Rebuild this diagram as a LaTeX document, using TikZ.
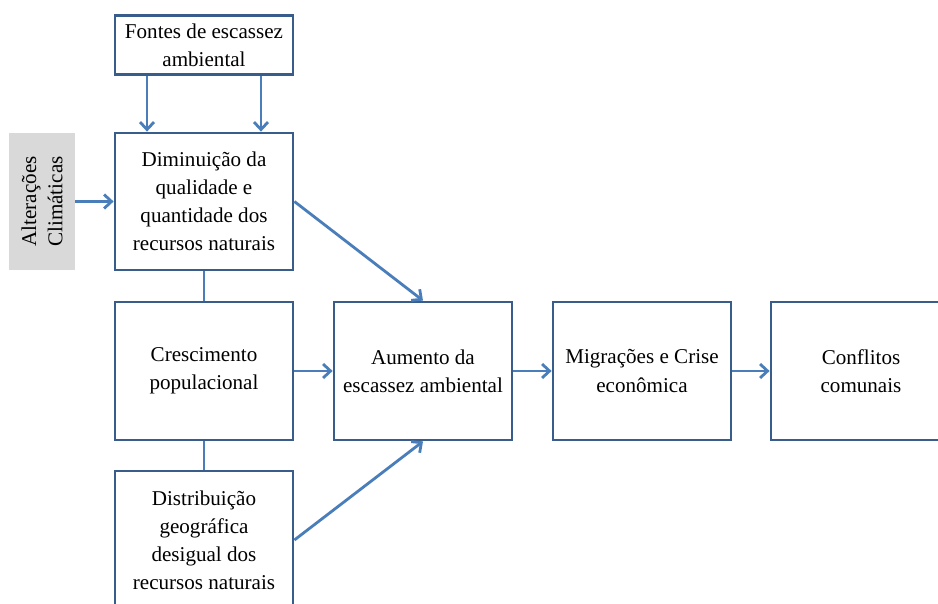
\documentclass[tikz,border=0pt]{standalone}
\usepackage{fontspec}
\setmainfont{Liberation Serif}
\usetikzlibrary{arrows.meta}
\definecolor{boxline}{HTML}{385D8A}
\definecolor{arrline}{HTML}{4A7EBB}
\definecolor{grayfill}{HTML}{D9D9D9}
\begin{document}
\begin{tikzpicture}[x=0.02cm,y=-0.02cm,
        box/.style={draw=boxline,line width=1.6pt,fill=white,align=center,
            minimum width=3.56cm,minimum height=2.76cm,inner sep=2pt,
            font=\fontsize{12}{16}\selectfont},
        arr/.style={draw=arrline,line width=1.6pt,-{Straight Barb[length=1.5mm,width=2.8mm]}},
        link/.style={draw=arrline,line width=1.6pt}]
        \useasboundingbox (0,0) rectangle (938,604);
        \clip (0,0) rectangle (938,604);
        \fill[white] (0,0) rectangle (938,604);

        \node[box,minimum height=1.18cm] (fontes) at (204,45) {Fontes de escassez\\ambiental};
        \node[box,minimum height=2.74cm] (dim) at (204,201.5) {Diminuição da\\qualidade e\\quantidade dos\\recursos naturais};
        \node[box] (cresc) at (204,371) {Crescimento\\populacional};
        \node[box] (dist) at (204,540) {Distribuição\\geográfica\\desigual dos\\recursos naturais};
        \node[box] (aum) at (423,371) {Aumento da\\escassez ambiental};
        \node[box] (migr) at (642,371) {Migrações e Crise\\econômica};
        \node[box,minimum width=3.6cm] (confl) at (861,371) {Conflitos\\comunais};
        \node[fill=grayfill,minimum width=1.32cm,minimum height=2.74cm,align=center,
            font=\fontsize{12}{15}\selectfont] (clima) at (42,201.5) {};
        \node[rotate=90,align=center,font=\fontsize{12}{15}\selectfont] (climatxt) at (clima.center) {Alterações\\Climáticas};

        \draw[arr] ([xshift=-1.14cm]fontes.south) -- ([xshift=-1.14cm]dim.north);
        \draw[arr] ([xshift=1.14cm]fontes.south) -- ([xshift=1.14cm]dim.north);
        \draw[arr] (clima.east) -- (dim.west);
        \draw[link] (dim.south) -- (cresc.north);
        \draw[link] (cresc.south) -- (dist.north);
        \draw[arr] (dim.east) -- (aum.north);
        \draw[arr] (cresc.east) -- (aum.west);
        \draw[arr] (dist.east) -- (aum.south);
        \draw[arr] (aum.east) -- (migr.west);
        \draw[arr] (migr.east) -- (confl.west);
    \end{tikzpicture}
\end{document}
